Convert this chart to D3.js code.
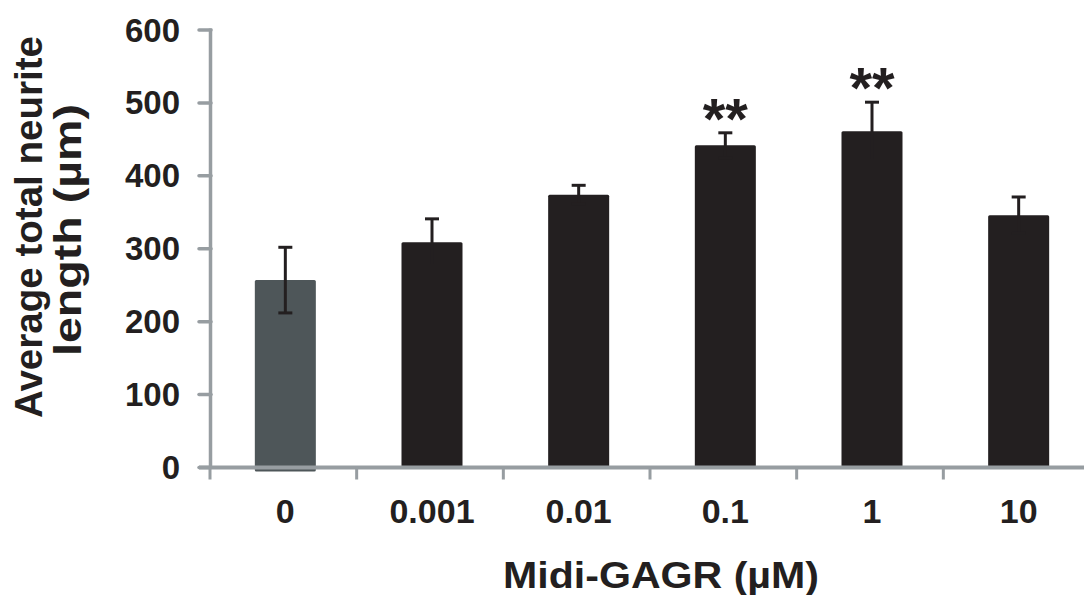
<!DOCTYPE html>
<html>
<head>
<meta charset="utf-8">
<script src="https://cdn.jsdelivr.net/npm/d3@7"></script>
<style>
  body { margin: 0; background: #fff; }
  text { font-family: "Liberation Sans", Arial, sans-serif; font-weight: bold; fill: #231f20; }
</style>
</head>
<body>
<script>
// data
const doses = ['0', '0.001', '0.01', '0.1', '1', '10']
const means = [257, 309, 374, 442, 461, 346]
const errs = [45, 32, 13, 17, 40, 25]
const stars = ['', '', '', '**', '**', '']
const yTicks = [0, 100, 200, 300, 400, 500, 600]

const w = 1084, h = 595
const axisColor = '#979da1', ink = '#231f20', ctrl = '#4e5659'

const svg = d3.select('body').append('svg')
    .attr('width', w).attr('height', h)

const x = d3.scaleBand()
    .domain(doses)
    .range([210, 1090])
    .paddingInner(0.584)
    .paddingOuter(0.292)

const y = d3.scaleLinear()
    .domain([0, 600])
    .range([467.5, 30])

const step = x.step()
const off = 2  // bars sit a hair right of the band centre in the original

// bars
svg.selectAll('rect.bar')
    .data(doses)
    .enter().append('rect')
    .attr('class', 'bar')
    .attr('x', d => x(d) + off)
    .attr('width', x.bandwidth())
    .attr('y', (d, i) => y(means[i]))
    .attr('height', (d, i) => y(0) - y(means[i]) + (i === 0 ? 4 : 0))
    .attr('rx', 1.5)
    .attr('fill', (d, i) => i === 0 ? ctrl : ink)

// error bars
const eb = svg.append('g').attr('stroke', ink).attr('stroke-width', 3)
doses.forEach((d, i) => {
    const cx = x(d) + off + x.bandwidth() / 2
    eb.append('line')
        .attr('x1', cx).attr('x2', cx)
        .attr('y1', y(means[i] - errs[i])).attr('y2', y(means[i] + errs[i]))
    ;[means[i] + errs[i], means[i] - errs[i]].forEach(v => {
        eb.append('line')
            .attr('x1', cx - 7).attr('x2', cx + 7)
            .attr('y1', y(v)).attr('y2', y(v))
    })
})

// significance stars
svg.selectAll('text.star')
    .data(doses)
    .enter().append('text')
    .attr('class', 'star')
    .attr('x', d => x(d) + off + x.bandwidth() / 2)
    .attr('y', (d, i) => y(means[i] + errs[i]) + 6)
    .attr('text-anchor', 'middle')
    .attr('font-size', 58)
    .text((d, i) => stars[i])

// y axis
const yAxis = svg.append('g')
yAxis.append('line')
    .attr('x1', 210.5).attr('x2', 210.5)
    .attr('y1', y(600) - 1.5).attr('y2', y(0))
    .attr('stroke', axisColor).attr('stroke-width', 3.5)
yAxis.selectAll('line.tick')
    .data(yTicks)
    .enter().append('line')
    .attr('class', 'tick')
    .attr('x1', 199).attr('x2', 211)
    .attr('y1', d => y(d)).attr('y2', d => y(d))
    .attr('stroke', axisColor).attr('stroke-width', 3.5)
    .attr('stroke-linecap', 'round')
yAxis.selectAll('text')
    .data(yTicks)
    .enter().append('text')
    .attr('x', 180)
    .attr('y', d => y(d) + 11.5)
    .attr('text-anchor', 'end')
    .attr('font-size', 33)
    .text(d => d)

// x axis
const xAxis = svg.append('g')
xAxis.append('line')
    .attr('x1', 199).attr('x2', w)
    .attr('y1', y(0)).attr('y2', y(0))
    .attr('stroke', axisColor).attr('stroke-width', 4)
xAxis.selectAll('line.tick')
    .data(doses)
    .enter().append('line')
    .attr('class', 'tick')
    .attr('x1', d => x(d) - step * x.paddingInner() / 2)
    .attr('x2', d => x(d) - step * x.paddingInner() / 2)
    .attr('y1', y(0)).attr('y2', y(0) + 12)
    .attr('stroke', axisColor).attr('stroke-width', 3)
xAxis.selectAll('text')
    .data(doses)
    .enter().append('text')
    .attr('x', d => x(d) + off + x.bandwidth() / 2)
    .attr('y', 523)
    .attr('text-anchor', 'middle')
    .attr('font-size', 34)
    .text(d => d)

// titles
svg.append('text')
    .attr('x', 661).attr('y', 588)
    .attr('text-anchor', 'middle')
    .attr('font-size', 37)
    .attr('textLength', 316)
    .attr('lengthAdjust', 'spacingAndGlyphs')
    .text('Midi-GAGR (µM)')

const yt = svg.append('g').attr('transform', 'translate(0,227) rotate(-90)')
yt.append('text')
    .attr('x', 0).attr('y', 42)
    .attr('text-anchor', 'middle')
    .attr('font-size', 39)
    .attr('textLength', 382)
    .attr('lengthAdjust', 'spacingAndGlyphs')
    .text('Average total neurite')
yt.append('text')
    .attr('x', -3).attr('y', 81)
    .attr('text-anchor', 'middle')
    .attr('font-size', 39)
    .attr('textLength', 252)
    .attr('lengthAdjust', 'spacingAndGlyphs')
    .text('length (µm)')
</script>
</body>
</html>
